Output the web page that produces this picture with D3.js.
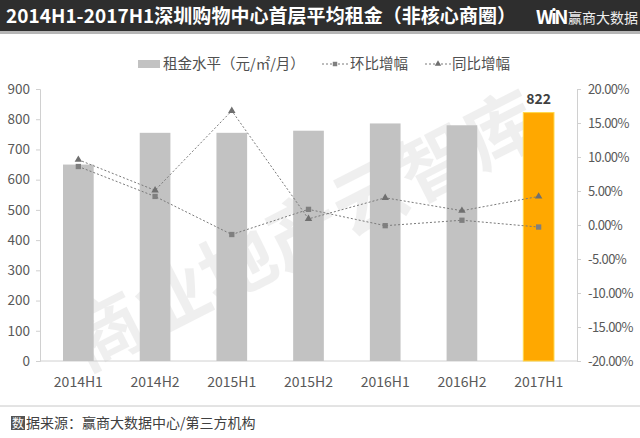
<!DOCTYPE html>
<html>
<head>
<meta charset="utf-8">
<title>深圳购物中心首层平均租金</title>
<script src="https://cdn.jsdelivr.net/npm/d3@7/dist/d3.min.js"></script>
<style>
  body { margin: 0; background: #fff; }
  text { font-family: "Noto Sans CJK SC", "Noto Sans", sans-serif; }
</style>
</head>
<body>
<div id="chart"></div>
<script>
// periods and values
const periods = ["2014H1", "2014H2", "2015H1", "2015H2", "2016H1", "2016H2", "2017H1"];
const rent = [650, 755, 755, 762, 786, 780, 822];          // 租金水平 元/㎡/月
const qoq = [8.6, 4.2, -1.4, 2.3, -0.1, 0.7, -0.3];         // 环比增幅 %
const yoy = [9.6, 5.1, 16.8, 0.9, 4.0, 2.1, 4.2];           // 同比增幅 %
const leftTicks = [0, 100, 200, 300, 400, 500, 600, 700, 800, 900];
const rightTicks = [-20, -15, -10, -5, 0, 5, 10, 15, 20];

const W = 640, H = 438;
const plot = { left: 40, right: 577, top: 89, bottom: 361 };

const svg = d3.select("#chart").append("svg")
    .attr("width", W).attr("height", H);

// header bar
svg.append("rect").attr("x", 0).attr("y", 30).attr("width", W).attr("height", 4).attr("fill", "#b5b5b5");
svg.append("rect").attr("x", 0).attr("y", 0).attr("width", W).attr("height", 31).attr("fill", "#2e2e2e");
svg.append("text").attr("x", 6).attr("y", 23)
    .attr("fill", "#fff").attr("font-size", 19).attr("font-weight", "bold")
    .attr("textLength", 510).attr("lengthAdjust", "spacing")
    .text("2014H1-2017H1深圳购物中心首层平均租金（非核心商圈）");
svg.append("text").attr("x", 536).attr("y", 24)
    .attr("fill", "#fff").attr("font-size", 19).attr("font-weight", "bold")
    .attr("font-family", "DejaVu Sans").attr("letter-spacing", -2.5)
    .text("WiN");
svg.append("text").attr("x", 568).attr("y", 23)
    .attr("fill", "#eee").attr("font-size", 14)
    .text("赢商大数据");

// watermark
svg.append("text")
    .attr("transform", "translate(85,372) rotate(-27)")
    .attr("fill", "#000").attr("opacity", 0.06)
    .attr("font-size", 74).attr("font-weight", "bold")
    .attr("font-family", "Noto Sans CJK SC")
    .text("商业地产云智库");

// scales
const x = d3.scaleBand().domain(periods).range([plot.left, plot.right]).paddingInner(0.6).paddingOuter(0.3);
const yL = d3.scaleLinear().domain([0, 900]).range([plot.bottom, plot.top]);
const yR = d3.scaleLinear().domain([-20, 20]).range([plot.bottom, plot.top]);

// axes
const axisColor = "#d0d0d0";
const gL = svg.append("g").attr("transform", `translate(${plot.left},0)`)
    .call(d3.axisLeft(yL).tickValues(leftTicks).tickSize(4).tickPadding(6));
const gR = svg.append("g").attr("transform", `translate(${plot.right},0)`)
    .call(d3.axisRight(yR).tickValues(rightTicks).tickSize(4).tickPadding(7)
        .tickFormat(d => d.toFixed(2) + "%"));
const gB = svg.append("g").attr("transform", `translate(0,${plot.bottom})`)
    .call(d3.axisBottom(x).tickSize(0).tickPadding(16));
[gL, gR, gB].forEach(g => {
    g.selectAll("path, line").attr("stroke", axisColor);
    g.selectAll("text").attr("fill", "#595959").attr("font-size", 13.5)
        .attr("font-family", "Noto Sans CJK SC");
});
gR.selectAll("text").attr("font-size", 13).attr("letter-spacing", -0.6);
gB.selectAll("text").attr("font-size", 14);
gB.select("path").attr("d", `M${plot.left},0H${plot.right}`);

// bars
svg.selectAll(".bar").data(periods).enter().append("rect")
    .attr("x", d => x(d))
    .attr("y", (d, i) => yL(rent[i]))
    .attr("width", x.bandwidth())
    .attr("height", (d, i) => plot.bottom - yL(rent[i]))
    .attr("fill", (d, i) => i === periods.length - 1 ? "#ffa800" : "#c2c2c2")
    .attr("stroke", (d, i) => i === periods.length - 1 ? "#ffd84a" : "none")
    .attr("stroke-width", 1);

svg.append("text")
    .attr("x", x(periods[6]) + x.bandwidth() / 2)
    .attr("y", yL(rent[6]) - 9)
    .attr("text-anchor", "middle").attr("font-size", 14).attr("font-weight", "bold")
    .attr("fill", "#404040").text(rent[6]);

// lines
const cx = d => x(d) + x.bandwidth() / 2;
const lineStyle = sel => sel.attr("fill", "none").attr("stroke", "#7a7a7a")
    .attr("stroke-width", 1).attr("stroke-dasharray", "2,2");

svg.append("path").datum(periods)
    .attr("d", d3.line().x(cx).y((d, i) => yR(qoq[i])))
    .call(lineStyle);
svg.append("path").datum(periods)
    .attr("d", d3.line().x(cx).y((d, i) => yR(yoy[i])))
    .call(lineStyle);

svg.selectAll(".sq").data(periods).enter().append("path")
    .attr("transform", (d, i) => `translate(${cx(d)},${yR(qoq[i])})`)
    .attr("d", d3.symbol(d3.symbolSquare, 28))
    .attr("fill", "#7f7f7f");
svg.selectAll(".tri").data(periods).enter().append("path")
    .attr("transform", (d, i) => `translate(${cx(d)},${yR(yoy[i])})`)
    .attr("d", d3.symbol(d3.symbolTriangle, 24))
    .attr("fill", "#6f6f6f");

// legend
const lg = svg.append("g").attr("font-size", 14.5);
lg.append("rect").attr("x", 138).attr("y", 60).attr("width", 22).attr("height", 8).attr("fill", "#c2c2c2");
lg.append("text").attr("x", 163).attr("y", 69).attr("fill", "#505050").text("租金水平（元/㎡/月）");
lg.append("line").attr("x1", 322).attr("x2", 348).attr("y1", 64).attr("y2", 64).call(lineStyle);
lg.append("path").attr("transform", "translate(335,64)").attr("d", d3.symbol(d3.symbolSquare, 20)).attr("fill", "#7f7f7f");
lg.append("text").attr("x", 350).attr("y", 69).attr("fill", "#505050").text("环比增幅");
lg.append("line").attr("x1", 425).attr("x2", 451).attr("y1", 64).attr("y2", 64).call(lineStyle);
lg.append("path").attr("transform", "translate(438,64)").attr("d", d3.symbol(d3.symbolTriangle, 18)).attr("fill", "#6f6f6f");
lg.append("text").attr("x", 452).attr("y", 69).attr("fill", "#505050").text("同比增幅");

// footer
svg.append("line").attr("x1", 0).attr("x2", W).attr("y1", 406).attr("y2", 406)
    .attr("stroke", "#c8c8c8");
svg.append("rect").attr("x", 11).attr("y", 416).attr("width", 14).attr("height", 14).attr("fill", "#555");
svg.append("text").attr("x", 12).attr("y", 428).attr("font-size", 12).attr("fill", "#fff").text("数");
svg.append("text").attr("x", 26).attr("y", 428).attr("font-size", 14).attr("fill", "#404040")
    .text("据来源：赢商大数据中心/第三方机构");
</script>
</body>
</html>
